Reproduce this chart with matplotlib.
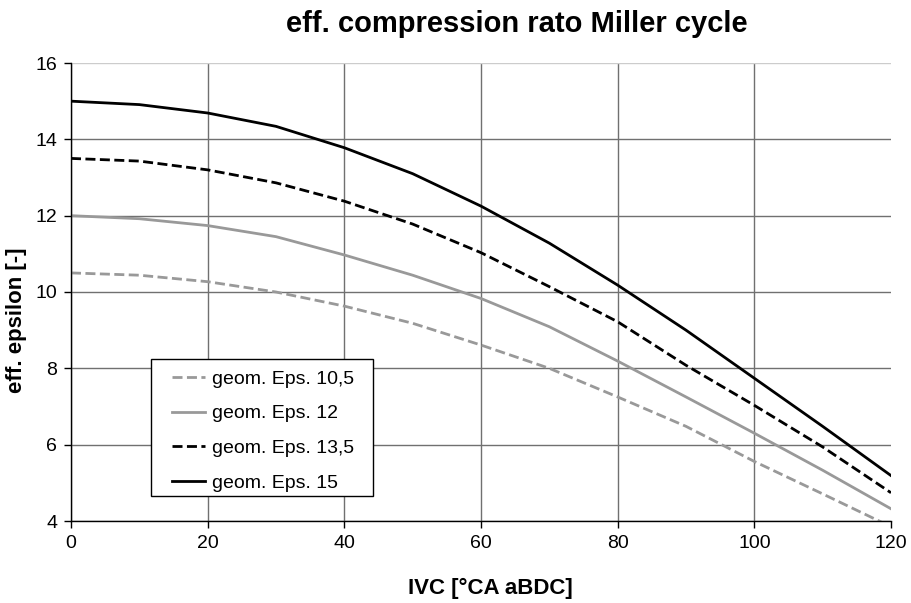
import matplotlib.pyplot as plt
from matplotlib.patches import Rectangle

plt.rcParams['font.family'] = ['Liberation Sans', 'DejaVu Sans']

ivc = [0, 10, 20, 30, 40, 50, 60, 70, 80, 90, 100, 110, 120]
eps_105 = [10.5, 10.44, 10.27, 10.0, 9.63, 9.18, 8.61, 8.0, 7.25, 6.48, 5.56, 4.71, 3.85]
eps_12 = [12.0, 11.92, 11.74, 11.45, 10.97, 10.44, 9.83, 9.09, 8.19, 7.25, 6.30, 5.33, 4.32]
eps_135 = [13.5, 13.43, 13.20, 12.86, 12.38, 11.78, 11.03, 10.14, 9.22, 8.08, 7.03, 5.94, 4.74]
eps_15 = [15.0, 14.91, 14.69, 14.34, 13.78, 13.10, 12.25, 11.28, 10.18, 9.0, 7.74, 6.48, 5.19]

gray = '#999999'
dash = (0, (3.6, 1.6))

fig = plt.figure(figsize=(9.12, 6.03), dpi=100)
ax = fig.add_axes([71 / 912, 1 - 521 / 603, 820 / 912, 458 / 603])

ax.plot(ivc, eps_105, color=gray, lw=2.0, ls=dash, label='geom. Eps. 10,5')
ax.plot(ivc, eps_12, color=gray, lw=2.0, label='geom. Eps. 12')
ax.plot(ivc, eps_135, color='black', lw=2.0, ls=dash, label='geom. Eps. 13,5')
ax.plot(ivc, eps_15, color='black', lw=2.0, label='geom. Eps. 15')

ax.set_xlim(0, 120)
ax.set_ylim(4, 16)
ax.set_xticks(range(0, 121, 20))
ax.set_yticks(range(4, 17, 2))
ax.tick_params(direction='out', length=5, width=1, labelsize=14, color='black', pad=5)

ax.grid(True, color='#707070', lw=1.0)
ax.set_axisbelow(True)
ax.get_xgridlines()[-1].set_visible(False)
ax.get_ygridlines()[-1].set_color('#cccccc')

for s in ['top', 'right']:
    ax.spines[s].set_visible(False)
for s in ['left', 'bottom']:
    ax.spines[s].set_color('black')
    ax.spines[s].set_linewidth(1.0)

ax.set_xlabel('IVC [°CA aBDC]', fontsize=16, fontweight='bold')
ax.xaxis.set_label_coords((490 - 71) / 820, (521 - 578) / 458)
ax.set_ylabel('eff. epsilon [-]', fontsize=16, fontweight='bold')
ax.yaxis.set_label_coords((27 - 71) / 820, (521 - 320) / 458)
fig.text(517 / 912, 1 - 24 / 603, 'eff. compression rato Miller cycle',
         fontsize=21, fontweight='bold', ha='center', va='center')

# legend box drawn separately so padding can match the original
box = Rectangle((80 / 820, 25 / 458), 222 / 820, 137 / 458, transform=ax.transAxes,
                facecolor='white', edgecolor='black', lw=1.0, zorder=4.9)
ax.add_patch(box)
leg = ax.legend(loc='upper left', bbox_to_anchor=((172 - 71) / 820, (521 - 370) / 458),
                fontsize=14, frameon=False, borderaxespad=0, borderpad=0,
                handlelength=1.7, handletextpad=0.36, labelspacing=0.88)
leg.set_zorder(5)

plt.savefig('out.png', dpi=100)
